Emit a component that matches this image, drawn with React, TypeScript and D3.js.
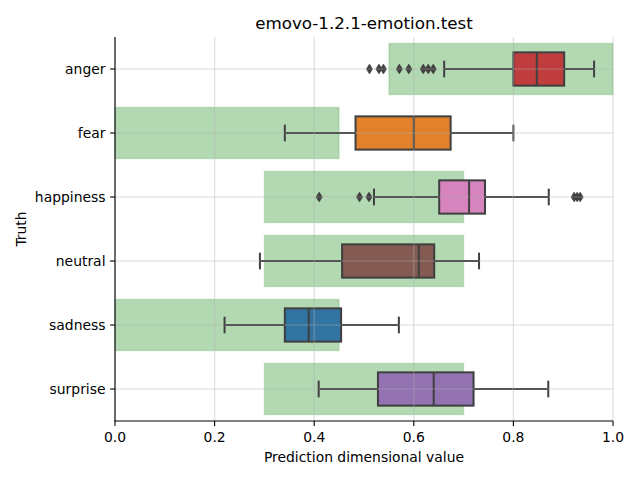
import React from "react";
import * as d3 from "d3";

const categories = ["anger", "fear", "happiness", "neutral", "sadness", "surprise"];
const rangeLo = [0.55, 0.0, 0.3, 0.3, 0.0, 0.3];
const rangeHi = [1.0, 0.45, 0.7, 0.7, 0.45, 0.7];
const whiskerLo = [0.661, 0.341, 0.52, 0.291, 0.22, 0.409];
const q1 = [0.8, 0.483, 0.651, 0.456, 0.341, 0.528];
const median = [0.847, 0.6, 0.711, 0.61, 0.389, 0.64];
const q3 = [0.902, 0.674, 0.743, 0.641, 0.454, 0.72];
const whiskerHi = [0.962, 0.8, 0.871, 0.731, 0.57, 0.87];
const outliers: number[][] = [
  [0.511, 0.53, 0.539, 0.571, 0.59, 0.619, 0.629, 0.639],
  [],
  [0.41, 0.491, 0.51, 0.922, 0.928, 0.934],
  [],
  [],
  [],
];
const boxColors = ["#c03d3e", "#e1812c", "#d684bd", "#845b53", "#3274a1", "#9372b2"];
const xTicks = [0, 0.2, 0.4, 0.6, 0.8, 1.0];

const W = 640;
const H = 480;
const left = 115;
const right = 613;
const top = 37;
const bottom = 421;
const font = "DejaVu Sans, sans-serif";
const lineColor = "#3f3f3f";

export default function App() {
  const x = d3.scaleLinear().domain([0, 1]).range([left, right]);
  const y = d3.scaleBand<string>().domain(categories).range([top, bottom]).paddingInner(0).paddingOuter(0);
  const bw = y.bandwidth();
  const yc = (c: string) => (y(c) as number) + bw / 2;
  const boxH = bw * 0.52;
  const rectH = bw * 0.8;
  const lw = 2;

  return (
    <svg width={W} height={H} style={{ position: "absolute", left: 0, top: 0 }} xmlns="http://www.w3.org/2000/svg">
      <rect x={0} y={0} width={W} height={H} fill="white" />
      {/* green ranges */}
      {categories.map((c, i) => (
        <rect
          key={"r" + c}
          x={x(rangeLo[i])}
          y={yc(c) - rectH / 2}
          width={x(rangeHi[i]) - x(rangeLo[i])}
          height={rectH}
          fill="green"
          fillOpacity={0.3}
          stroke="green"
          strokeOpacity={0.15}
          strokeWidth={1.4}
        />
      ))}
      {/* boxplots */}
      {categories.map((c, i) => {
        const cy = yc(c);
        return (
          <g key={"b" + c}>
            <line x1={x(whiskerLo[i])} x2={x(q1[i])} y1={cy} y2={cy} stroke={lineColor} strokeWidth={lw} />
            <line x1={x(q3[i])} x2={x(whiskerHi[i])} y1={cy} y2={cy} stroke={lineColor} strokeWidth={lw} />
            <line x1={x(whiskerLo[i])} x2={x(whiskerLo[i])} y1={cy - boxH / 4} y2={cy + boxH / 4} stroke={lineColor} strokeWidth={lw} />
            <line x1={x(whiskerHi[i])} x2={x(whiskerHi[i])} y1={cy - boxH / 4} y2={cy + boxH / 4} stroke={lineColor} strokeWidth={lw} />
            <rect
              x={x(q1[i])}
              y={cy - boxH / 2}
              width={x(q3[i]) - x(q1[i])}
              height={boxH}
              fill={boxColors[i]}
              stroke={lineColor}
              strokeWidth={lw}
            />
            <line x1={x(median[i])} x2={x(median[i])} y1={cy - boxH / 2} y2={cy + boxH / 2} stroke={lineColor} strokeWidth={lw} />
            {outliers[i].map((v, j) => (
              <path
                key={j}
                d={`M${x(v)},${cy - 4.8} L${x(v) + 3},${cy} L${x(v)},${cy + 4.8} L${x(v) - 3},${cy} Z`}
                fill={lineColor}
                stroke={lineColor}
                strokeWidth={0.8}
              />
            ))}
          </g>
        );
      })}
      {/* grid on top */}
      <g>
        {xTicks.map((t) => (
          <line key={"gx" + t} x1={x(t)} x2={x(t)} y1={top} y2={bottom} stroke="#b0b0b0" strokeOpacity={0.45} strokeWidth={1.1} />
        ))}
        {categories.map((c) => (
          <line key={"gy" + c} x1={left} x2={right} y1={yc(c)} y2={yc(c)} stroke="#b0b0b0" strokeOpacity={0.45} strokeWidth={1.1} />
        ))}
      </g>
      {/* spines */}
      <line x1={left} x2={left} y1={top} y2={bottom + 0.5} stroke="black" strokeWidth={1.1} />
      <line x1={left - 0.5} x2={right} y1={bottom} y2={bottom} stroke="black" strokeWidth={1.1} />
      {/* x ticks */}
      {xTicks.map((t) => (
        <g key={"xt" + t}>
          <line x1={x(t)} x2={x(t)} y1={bottom} y2={bottom + 4.9} stroke="black" strokeWidth={1.1} />
          <text x={x(t)} y={bottom + 21} textAnchor="middle" fontFamily={font} fontSize={13.9} fill="black">
            {t.toFixed(1)}
          </text>
        </g>
      ))}
      {/* y ticks */}
      {categories.map((c) => (
        <g key={"yt" + c}>
          <line x1={left - 4.9} x2={left} y1={yc(c)} y2={yc(c)} stroke="black" strokeWidth={1.1} />
          <text x={left - 9.5} y={yc(c)} dy="0.36em" textAnchor="end" fontFamily={font} fontSize={13.9} fill="black">
            {c}
          </text>
        </g>
      ))}
      <text x={(left + right) / 2} y={462} textAnchor="middle" fontFamily={font} fontSize={13.9} fill="black">
        Prediction dimensional value
      </text>
      <text
        transform={`translate(26,${(top + bottom) / 2}) rotate(-90)`}
        textAnchor="middle"
        fontFamily={font}
        fontSize={13.9}
        fill="black"
      >
        Truth
      </text>
      <text x={(left + right) / 2} y={29} textAnchor="middle" fontFamily={font} fontSize={16.7} fill="black">
        emovo-1.2.1-emotion.test
      </text>
    </svg>
  );
}
